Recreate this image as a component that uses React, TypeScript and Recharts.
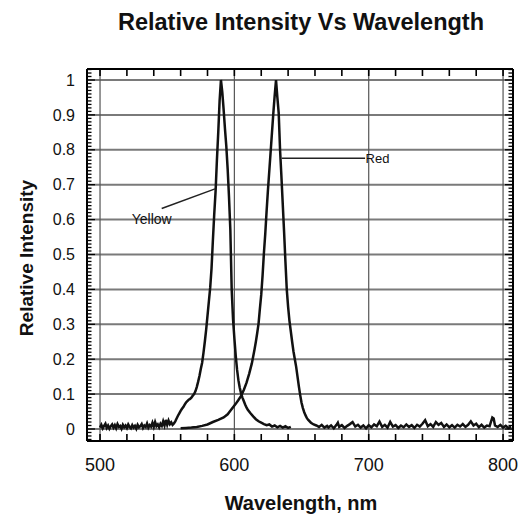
import React from 'react';
import { LineChart, Line, XAxis, YAxis, ReferenceLine, ReferenceDot } from 'recharts';

// ---- data ----
const yellowWavelengths = [
  500, 501, 502, 503, 504, 505, 506, 507, 508, 509, 510, 511, 512, 513, 514, 515, 516, 517, 518, 519,
  520, 521, 522, 523, 524, 525, 526, 527, 528, 529, 530, 531, 532, 533, 534, 535, 536, 537, 538, 539,
  540, 541, 542, 543, 544, 545, 546, 547, 548, 549, 550, 551, 552, 553, 554, 555, 556, 557, 558, 559,
  560, 561, 562, 563, 564, 565, 566, 567, 568, 569, 570, 571, 572, 573, 574, 575, 576, 577, 578, 579,
  580, 581, 582, 583, 584, 585, 586, 587, 588, 589, 590, 591, 592, 593, 594, 595, 596, 597, 598, 599,
  600, 601, 602, 603, 604, 605, 606, 607, 608, 609, 610, 612, 614, 616, 618, 620, 622, 624, 626, 628,
  630, 632, 634, 636, 638, 640, 642,
];
const yellowValues = [
  0.004, 0.012, 0.002, 0.009, 0.015, 0.003, 0.010, 0.001, 0.008, 0.013, 0.004, 0.011, 0.002, 0.014, 0.006, 0.009, 0.001, 0.012, 0.005, 0.010,
  0.003, 0.013, 0.006, 0.002, 0.011, 0.004, 0.009, 0.001, 0.012, 0.005, 0.008, 0.014, 0.003, 0.010, 0.006, 0.016, 0.004, 0.011, 0.007, 0.018,
  0.006, 0.020, 0.008, 0.013, 0.005, 0.015, 0.009, 0.022, 0.010, 0.026, 0.012, 0.024, 0.014, 0.019, 0.012, 0.016, 0.022, 0.030, 0.038, 0.045,
  0.052, 0.058, 0.063, 0.070, 0.076, 0.080, 0.084, 0.086, 0.090, 0.095, 0.100, 0.108, 0.120, 0.135, 0.152, 0.172, 0.190, 0.218, 0.250, 0.285,
  0.325, 0.365, 0.405, 0.460, 0.540, 0.615, 0.680, 0.770, 0.850, 0.940, 1.000, 0.965, 0.915, 0.860, 0.810, 0.745, 0.665, 0.570, 0.400, 0.315,
  0.260, 0.210, 0.170, 0.140, 0.118, 0.102, 0.090, 0.080, 0.070, 0.062, 0.055, 0.045, 0.036, 0.028, 0.022, 0.018, 0.014, 0.011, 0.013, 0.007,
  0.010, 0.005, 0.009, 0.004, 0.008, 0.003, 0.006,
];

const redWavelengths = [
  560, 564, 568, 572, 576, 580, 584, 588, 592, 595, 597, 599, 601, 603, 605, 607, 609, 611, 613, 614,
  615, 616, 617, 618, 619, 620, 621, 622, 623, 624, 625, 626, 627, 628, 629, 630, 631, 632, 633, 634,
  635, 636, 637, 638, 639, 640, 641, 642, 643, 644, 645, 646, 647, 648, 649, 650, 651, 652, 653, 654,
  655, 657, 659, 661, 663, 665, 667, 669, 670, 672, 674, 676, 677, 678, 680, 682, 684, 686, 688, 690,
  692, 694, 696, 698, 700, 702, 704, 706, 708, 710, 712, 714, 716, 718, 720, 722, 724, 726, 728, 730,
  732, 734, 736, 738, 740, 742, 744, 746, 748, 750, 752, 754, 756, 758, 760, 762, 764, 766, 768, 770,
  772, 774, 776, 778, 780, 782, 784, 786, 788, 790, 792, 793, 794, 796, 798, 800, 802, 804, 806,
];
const redValues = [
  0.002, 0.003, 0.004, 0.006, 0.009, 0.013, 0.020, 0.026, 0.033, 0.042, 0.052, 0.062, 0.072, 0.083, 0.095, 0.112, 0.132, 0.158, 0.188, 0.208,
  0.228, 0.250, 0.275, 0.302, 0.345, 0.385, 0.440, 0.505, 0.560, 0.625, 0.685, 0.740, 0.795, 0.850, 0.905, 0.955, 1.000, 0.950, 0.905, 0.800,
  0.725, 0.645, 0.565, 0.480, 0.400, 0.350, 0.310, 0.280, 0.250, 0.222, 0.200, 0.178, 0.150, 0.122, 0.097, 0.075, 0.060, 0.048, 0.039, 0.031,
  0.026, 0.018, 0.013, 0.010, 0.006, 0.012, 0.004, 0.009, 0.004, 0.010, 0.002, 0.012, 0.018, 0.006, 0.011, 0.003, 0.009, 0.014, 0.020, 0.007,
  0.012, 0.004, 0.010, 0.002, 0.011, 0.005, 0.013, 0.008, 0.021, 0.006, 0.012, 0.004, 0.020, 0.007, 0.011, 0.003, 0.010, 0.005, 0.013, 0.006,
  0.011, 0.003, 0.012, 0.007, 0.015, 0.025, 0.008, 0.014, 0.006, 0.020, 0.012, 0.017, 0.006, 0.013, 0.005, 0.011, 0.004, 0.012, 0.007, 0.014,
  0.006, 0.012, 0.022, 0.010, 0.015, 0.005, 0.012, 0.004, 0.010, 0.008, 0.033, 0.030, 0.010, 0.006, 0.012, 0.004, 0.009, 0.003, 0.007,
];

const xTickLabels = [500, 600, 700, 800];
const yTickLabels = [0, 0.1, 0.2, 0.3, 0.4, 0.5, 0.6, 0.7, 0.8, 0.9, 1];

const seriesNames = ['Yellow', 'Red'];
// annotation anchors in data units
const yellowLeader = [{ x: 545.9, y: 0.632 }, { x: 585.6, y: 0.688 }];
const redLeader = [{ x: 635.3, y: 0.776 }, { x: 697.3, y: 0.776 }];
const yellowLabelAt = { x: 538.5, y: 0.602 };
const redLabelAt = { x: 706.5, y: 0.776 };

const X_DOMAIN: [number, number] = [490.3, 807.4];
const Y_DOMAIN: [number, number] = [-0.0344, 1.0315];

const yellowData = yellowWavelengths.map((w, i) => ({ w, v: yellowValues[i] }));
const redData = redWavelengths.map((w, i) => ({ w, v: redValues[i] }));

const xMinorTicks = Array.from({ length: 16 }, (_, i) => 500 + i * 20);
const yMinorTicks = Array.from({ length: 107 }, (_, i) => Math.round((-0.03 + i * 0.01) * 100) / 100);

// plot frame (layout constants)
const PLOT = { left: 87, right: 513, top: 69, bottom: 441 };

const FONT = '"Liberation Sans", Arial, Helvetica, sans-serif';
const INK = '#111';
const frameLine = { stroke: '#000', strokeWidth: 2 };

const isMajorY = (v: number) => yTickLabels.some((t) => Math.abs(t - v) < 1e-6);

const XTick = (props: any) => {
  const { x, y, payload } = props;
  const cx = payload.coordinate;
  return (
    <g>
      <line x1={cx} x2={cx} y1={PLOT.bottom} y2={PLOT.bottom - 7} stroke="#000" strokeWidth={1.6} />
      <line x1={cx} x2={cx} y1={PLOT.top} y2={PLOT.top + 7} stroke="#000" strokeWidth={1.6} />
      {xTickLabels.includes(payload.value) && (
        <text x={x} y={y} dy="0.71em" textAnchor="middle" style={{ fontSize: 18, fill: INK, fontFamily: FONT }}>
          {payload.value}
        </text>
      )}
    </g>
  );
};

const YTick = (props: any) => {
  const { x, y, payload } = props;
  const major = isMajorY(payload.value);
  const len = major ? 8 : 4.5;
  return (
    <g>
      <line x1={PLOT.left} x2={PLOT.left + len} y1={y} y2={y} stroke="#000" strokeWidth={1.3} />
      <line x1={PLOT.right} x2={PLOT.right - len} y1={y} y2={y} stroke="#000" strokeWidth={1.3} />
      {major && (
        <text x={x} y={y} dy="0.355em" textAnchor="end" style={{ fontSize: 16, fill: INK, fontFamily: FONT }}>
          {payload.value}
        </text>
      )}
    </g>
  );
};

export default function App() {
  return (
    <div style={{ position: 'absolute', left: 0, top: 0, width: 523, height: 522, background: '#fff', fontFamily: FONT }}>
      <div
        style={{
          position: 'absolute', left: 51, top: 9, width: 500, textAlign: 'center',
          fontSize: 23.5, lineHeight: '26px', fontWeight: 'bold', color: INK, fontFamily: FONT,
        }}
      >
        Relative Intensity Vs Wavelength
      </div>
      <LineChart width={523} height={522} margin={{ top: 69, right: 10, bottom: 0, left: 0 }}>
        <XAxis
          xAxisId="m" dataKey="w" type="number" domain={X_DOMAIN} allowDataOverflow
          ticks={xMinorTicks} interval={0} tickSize={0} tickMargin={17}
          tickLine={false} axisLine={frameLine} height={81}
          tick={XTick}
          label={{
            content: () => (
              <text x={301} y={503} textAnchor="middle" dominantBaseline="central"
                style={{ fontSize: 20, fontWeight: 'bold', fill: INK, fontFamily: FONT }}>
                Wavelength, nm
              </text>
            ),
          }}
        />
        <YAxis
          yAxisId="m" dataKey="v" type="number" domain={Y_DOMAIN} allowDataOverflow
          ticks={yMinorTicks} interval={0} tickSize={0} tickMargin={12}
          tickLine={false} axisLine={frameLine} width={87}
          tick={YTick}
          label={{
            content: () => (
              <text x={26} y={258} transform="rotate(-90 26 258)" textAnchor="middle" dominantBaseline="central"
                style={{ fontSize: 19, fontWeight: 'bold', fill: INK, fontFamily: FONT }}>
                Relative Intensity
              </text>
            ),
          }}
        />
        <XAxis xAxisId="t" dataKey="w" type="number" orientation="top" mirror domain={X_DOMAIN} allowDataOverflow
          tick={false} tickLine={false} axisLine={frameLine} />
        <YAxis yAxisId="r" dataKey="v" type="number" orientation="right" mirror domain={Y_DOMAIN} allowDataOverflow
          tick={false} tickLine={false} axisLine={frameLine} />

        {yTickLabels.map((t) => (
          <ReferenceLine key={'h' + t} xAxisId="m" yAxisId="m" y={t} stroke="#7a7a7a" strokeWidth={2} />
        ))}
        {xTickLabels.map((t) => (
          <ReferenceLine key={'v' + t} xAxisId="m" yAxisId="m" x={t} stroke="#555" strokeWidth={1.2} />
        ))}

        <Line xAxisId="t" yAxisId="r" data={redData} dataKey="v" stroke="transparent" strokeWidth={0}
          dot={false} activeDot={false} isAnimationActive={false} legendType="none" />

        <Line xAxisId="m" yAxisId="m" data={yellowData} dataKey="v" name={seriesNames[0]} type="linear"
          stroke="#111" strokeWidth={2.5} dot={false} isAnimationActive={false} />
        <Line xAxisId="m" yAxisId="m" data={redData} dataKey="v" name={seriesNames[1]} type="linear"
          stroke="#111" strokeWidth={2.5} dot={false} isAnimationActive={false} />

        <ReferenceLine xAxisId="m" yAxisId="m" segment={yellowLeader} stroke="#222" strokeWidth={1.5} />
        <ReferenceLine xAxisId="m" yAxisId="m" segment={redLeader} stroke="#222" strokeWidth={1.5} />
        <ReferenceDot xAxisId="m" yAxisId="m" x={yellowLabelAt.x} y={yellowLabelAt.y} r={0} fill="none" stroke="none"
          label={{ value: seriesNames[0], position: 'center', fontSize: 14, fill: INK, fontFamily: FONT }} />
        <ReferenceDot xAxisId="m" yAxisId="m" x={redLabelAt.x} y={redLabelAt.y} r={0} fill="none" stroke="none"
          label={{ value: seriesNames[1], position: 'center', fontSize: 13, fill: INK, fontFamily: FONT }} />
      </LineChart>
    </div>
  );
}
